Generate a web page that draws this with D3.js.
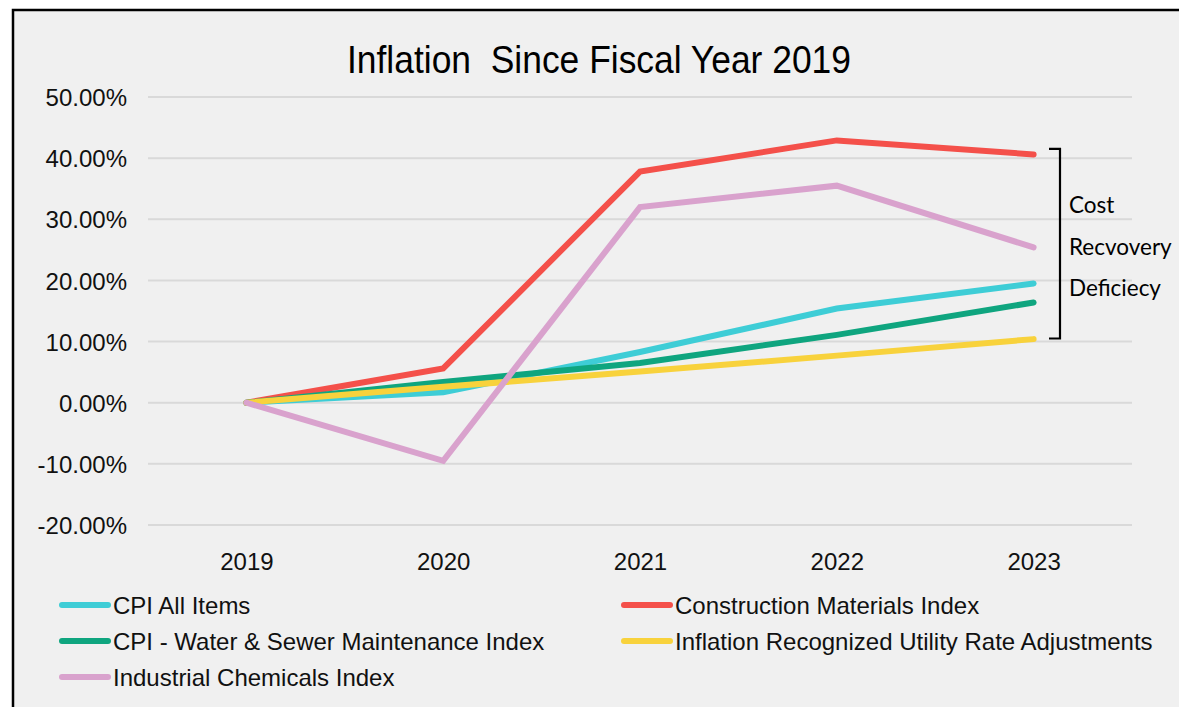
<!DOCTYPE html>
<html>
<head>
<meta charset="utf-8">
<script src="https://cdn.jsdelivr.net/npm/d3@7"></script>
<style>
  html, body { margin: 0; padding: 0; background: #ffffff; }
  svg { display: block; }
</style>
</head>
<body>
<svg id="chart" width="1179" height="707"></svg>
<script>
// Fiscal years on the x axis
const years = ["2019", "2020", "2021", "2022", "2023"];

// Cumulative change since FY2019, in percent
const cpiAllItems          = [0, 1.7, 8.3, 15.4, 19.5];
const constructionMaterials = [0, 5.6, 37.8, 42.9, 40.6];
const cpiWaterSewer        = [0, 3.4, 6.5, 11.1, 16.4];
const utilityRateAdj       = [0, 2.6, 5.1, 7.7, 10.4];
const industrialChemicals  = [0, -9.5, 32.0, 35.5, 25.4];

// Y axis ticks
const yTicks = [-20, -10, 0, 10, 20, 30, 40, 50];

// Series names and colours, in drawing order
const seriesNames  = ["CPI All Items", "Construction Materials Index",
                      "CPI - Water & Sewer Maintenance Index",
                      "Inflation Recognized Utility Rate Adjustments",
                      "Industrial Chemicals Index"];
const seriesColors = ["#3ecdd6", "#f4504a", "#0fa57f", "#f8d23c", "#d9a2cd"];
const seriesValues = [cpiAllItems, constructionMaterials, cpiWaterSewer,
                      utilityRateAdj, industrialChemicals];

// Bracket annotation
const bracketTop = 41.5, bracketBottom = 10.5;
const noteLines = ["Cost", "Recvovery", "Deficiecy"];

const series = seriesNames.map((name, i) => ({
  name, color: seriesColors[i],
  values: years.map((y, j) => ({ year: y, value: seriesValues[i][j] }))
}));

const svg = d3.select("#chart");
const W = 1179, H = 707;

// Framed panel
svg.append("rect").attr("x", 0).attr("y", 0).attr("width", W).attr("height", H).attr("fill", "#ffffff");
svg.append("rect")
  .attr("x", 13).attr("y", 10).attr("width", 1300).attr("height", 900)
  .attr("fill", "#f0f0f0").attr("stroke", "#000").attr("stroke-width", 2.5);

const plot = { left: 148, right: 1132, top: 97, bottom: 525 };

const x = d3.scalePoint().domain(years).range([plot.left, plot.right]).padding(0.5);
const y = d3.scaleLinear().domain([-20, 50]).range([plot.bottom, plot.top]);

// Title
svg.append("text")
  .attr("x", 599).attr("y", 73)
  .attr("text-anchor", "middle")
  .attr("font-family", "'Liberation Sans', Arial, sans-serif")
  .attr("font-size", 39)
  .attr("textLength", 504).attr("lengthAdjust", "spacingAndGlyphs")
  .attr("fill", "#000")
  .attr("xml:space", "preserve")
  .text("Inflation  Since Fiscal Year 2019");

// Gridlines
svg.append("g")
  .selectAll("line").data(yTicks).join("line")
  .attr("x1", plot.left).attr("x2", plot.right)
  .attr("y1", d => y(d)).attr("y2", d => y(d))
  .attr("stroke", "#d9d9d9").attr("stroke-width", 2);

// Y axis labels (plain hyphen for negatives)
const pct = d => (d < 0 ? "-" : "") + Math.abs(d).toFixed(2) + "%";
const yAxis = d3.axisLeft(y).tickValues(yTicks).tickSize(0).tickPadding(0).tickFormat(pct);
const gy = svg.append("g").attr("transform", `translate(127,0)`).call(yAxis);
gy.select(".domain").remove();
gy.selectAll("text")
  .attr("font-family", "'Liberation Sans', Arial, sans-serif")
  .attr("font-size", 24).attr("fill", "#111").attr("dy", "0.36em");

// X axis labels
const xAxis = d3.axisBottom(x).tickSize(0).tickPadding(0);
const gx = svg.append("g").attr("transform", `translate(0,${plot.bottom})`).call(xAxis);
gx.select(".domain").remove();
gx.selectAll("text")
  .attr("font-family", "'Liberation Sans', Arial, sans-serif")
  .attr("font-size", 24).attr("fill", "#111")
  .attr("dy", 0).attr("y", 45);

// Series lines
const line = d3.line().x(d => x(d.year)).y(d => y(d.value));
svg.append("g")
  .selectAll("path").data(series).join("path")
  .attr("d", d => line(d.values))
  .attr("fill", "none")
  .attr("stroke", d => d.color)
  .attr("stroke-width", 6)
  .attr("stroke-linecap", "round")
  .attr("stroke-linejoin", "miter");

// Bracket
const bx = 1060;
svg.append("path")
  .attr("d", `M${bx - 11},${y(bracketTop)} H${bx} V${y(bracketBottom)} H${bx - 11}`)
  .attr("fill", "none").attr("stroke", "#000").attr("stroke-width", 2.2);

svg.append("g").selectAll("text").data(noteLines).join("text")
  .attr("x", 1069).attr("y", (d, i) => 213 + i * 41.5)
  .attr("font-family", "Lato, 'Open Sans', sans-serif")
  .attr("font-size", 22.5).attr("fill", "#000")
  .text(d => d);

// Legend (two columns)
const legendPos = [
  { lx: 62, ty: 605 }, { lx: 624, ty: 605 },
  { lx: 62, ty: 641 }, { lx: 624, ty: 641 },
  { lx: 62, ty: 677 }
];
const lg = svg.append("g").selectAll("g").data(series).join("g")
  .attr("transform", (d, i) => `translate(${legendPos[i].lx},${legendPos[i].ty})`);
lg.append("line")
  .attr("x1", 0).attr("x2", 46).attr("y1", 0).attr("y2", 0)
  .attr("stroke", d => d.color).attr("stroke-width", 6).attr("stroke-linecap", "round");
lg.append("text")
  .attr("x", 51).attr("y", 0).attr("dy", "0.36em")
  .attr("font-family", "'Liberation Sans', Arial, sans-serif")
  .attr("font-size", 24).attr("fill", "#111")
  .text(d => d.name);
</script>
</body>
</html>
